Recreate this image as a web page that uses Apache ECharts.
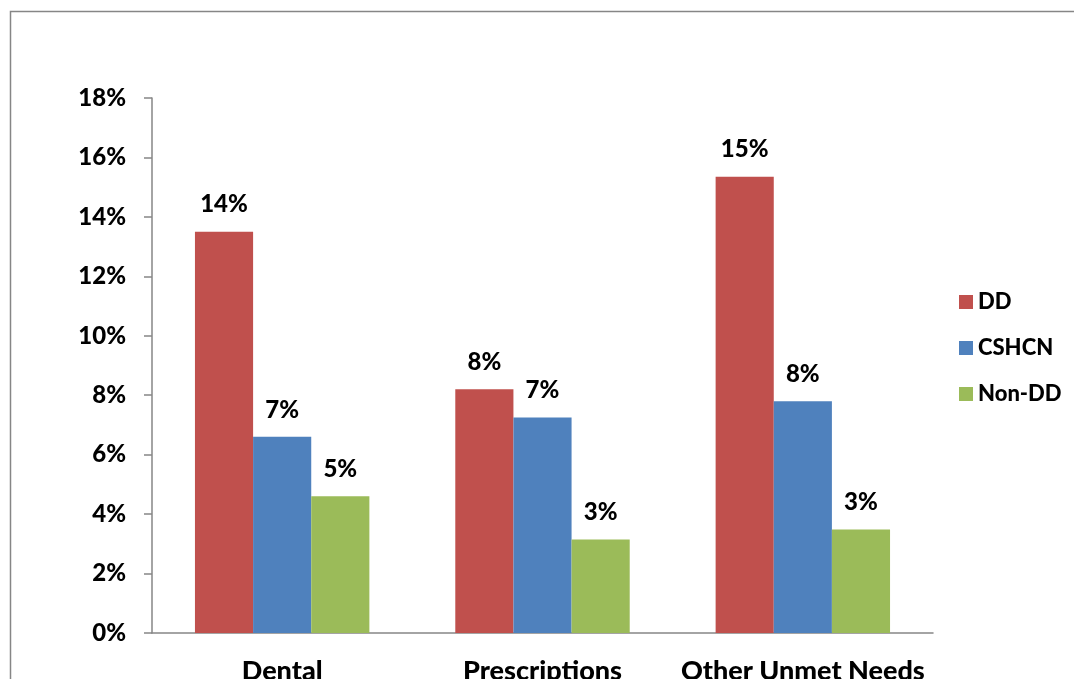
<!DOCTYPE html>
<html>
<head>
<meta charset="utf-8">
<style>html,body{margin:0;padding:0;background:#fff;}#c{width:1074px;height:679px;}</style>
<script src="https://cdn.jsdelivr.net/npm/echarts@6/dist/echarts.min.js"></script>
</head>
<body>
<div id="c"></div>
<script>
var categories = ['Dental', 'Prescriptions', 'Other Unmet Needs'];
var seriesNames = ['DD', 'CSHCN', 'Non-DD'];
var ddValues = [13.5, 8.2, 15.35];
var cshcnValues = [6.6, 7.25, 7.8];
var nonDdValues = [4.6, 3.15, 3.48];
var colors = ['#C0504D', '#4F81BD', '#9BBB59'];

var FONT = 'Lato';
var chart = echarts.init(document.getElementById('c'));
function mkSeries(name, data, color) {
  return {
    name: name, type: 'bar', data: data, barGap: '0%', barCategoryGap: '33%',
    itemStyle: { color: color },
    label: {
      show: true, position: 'top', distance: 15,
      fontFamily: FONT, fontWeight: 900, fontSize: 24, color: '#000',
      formatter: function (p) { return Math.round(p.value) + '%'; }
    }
  };
}
chart.setOption({
  animation: false,
  graphic: [{
    type: 'rect', silent: true,
    shape: { x: 10.5, y: 11.5, width: 1200, height: 800 },
    style: { fill: 'none', stroke: '#868686', lineWidth: 1.5 }
  }],
  grid: { left: 152, right: 141, top: 98, bottom: 46, containLabel: false, outerBoundsMode: 'none' },
  legend: {
    orient: 'vertical', left: 954, top: 286, itemWidth: 14, itemHeight: 14, itemGap: 24,
    icon: 'rect',
    textStyle: { fontFamily: FONT, fontWeight: 900, fontSize: 22, color: '#000' },
    data: seriesNames
  },
  xAxis: {
    type: 'category', data: categories,
    axisLine: { lineStyle: { color: '#868686', width: 1.5 } },
    axisTick: { length: 10, lineStyle: { color: '#868686', width: 1.5 } },
    axisLabel: { interval: 0, margin: 25, fontFamily: FONT, fontWeight: 900, fontSize: 27, color: '#000' }
  },
  yAxis: {
    type: 'value', min: 0, max: 18, interval: 2,
    axisLine: { show: true, lineStyle: { color: '#868686', width: 1.5 } },
    axisTick: { show: true, length: 8, lineStyle: { color: '#868686', width: 1.5 } },
    splitLine: { show: false },
    axisLabel: { margin: 26, formatter: '{value}%', fontFamily: FONT, fontWeight: 900, fontSize: 24, color: '#000' }
  },
  series: [
    mkSeries(seriesNames[0], ddValues, colors[0]),
    mkSeries(seriesNames[1], cshcnValues, colors[1]),
    mkSeries(seriesNames[2], nonDdValues, colors[2])
  ]
});
</script>
</body>
</html>
